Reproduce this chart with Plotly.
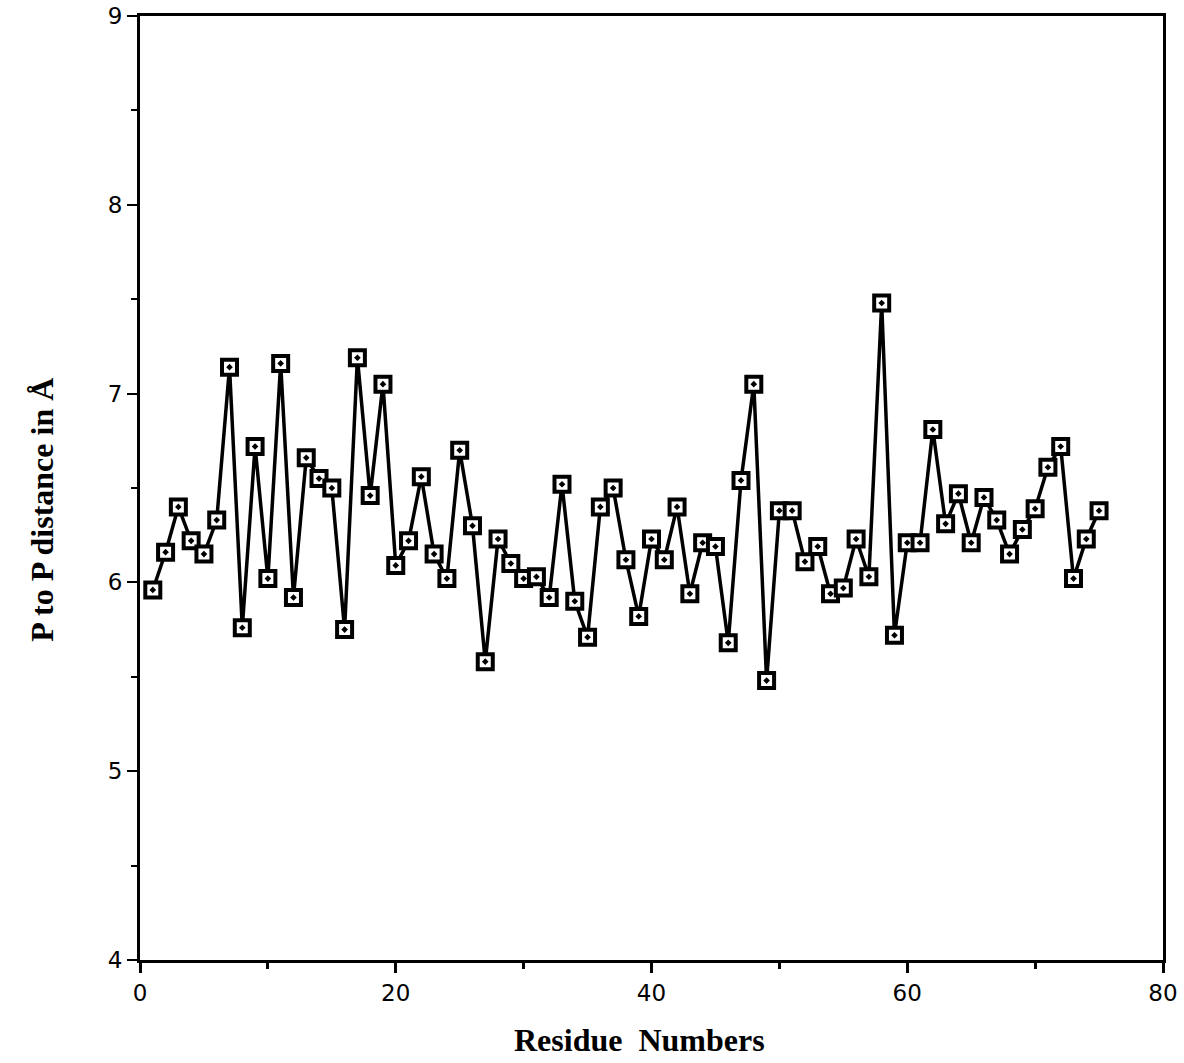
import plotly.graph_objects as go

residues = list(range(1, 76))
distances = [
    5.96, 6.16, 6.40, 6.22, 6.15, 6.33, 7.14, 5.76, 6.72, 6.02,
    7.16, 5.92, 6.66, 6.55, 6.50, 5.75, 7.19, 6.46, 7.05, 6.09,
    6.22, 6.56, 6.15, 6.02, 6.70, 6.30, 5.58, 6.23, 6.10, 6.02,
    6.03, 5.92, 6.52, 5.90, 5.71, 6.40, 6.50, 6.12, 5.82, 6.23,
    6.12, 6.40, 5.94, 6.21, 6.19, 5.68, 6.54, 7.05, 5.48, 6.38,
    6.38, 6.11, 6.19, 5.94, 5.97, 6.23, 6.03, 7.48, 5.72, 6.21,
    6.21, 6.81, 6.31, 6.47, 6.21, 6.45, 6.33, 6.15, 6.28, 6.39,
    6.61, 6.72, 6.02, 6.23, 6.38,
]

x_major = [0, 20, 40, 60, 80]
y_major = [4, 5, 6, 7, 8, 9]
x_title = "Residue  Numbers"
y_title = "P to P distance in Å"

fig = go.Figure()
fig.add_trace(go.Scatter(
    x=residues, y=distances, mode="lines+markers",
    line=dict(color="black", width=3.5),
    marker=dict(symbol="square-dot", size=15, color="white",
                line=dict(color="black", width=4)),
    showlegend=False,
))

tick_font = dict(family="DejaVu Sans, Liberation Sans, Arial", size=23, color="black")
title_font = dict(family="Liberation Serif, Times New Roman", size=32, color="black")

fig.update_layout(
    width=1184, height=1063,
    margin=dict(l=140, r=21, t=16, b=103),
    paper_bgcolor="white", plot_bgcolor="white",
    xaxis=dict(
        range=[0, 80], tickvals=x_major, ticktext=[str(v) for v in x_major],
        showgrid=False, zeroline=False, automargin=False,
        showline=True, linecolor="black", linewidth=3, mirror=True,
        ticks="outside", ticklen=10, tickwidth=3, tickcolor="black",
        minor=dict(dtick=10, tick0=0, ticks="outside", ticklen=6, tickwidth=3, tickcolor="black", showgrid=False),
        tickfont=tick_font,
    ),
    yaxis=dict(
        range=[4, 9], tickvals=y_major, ticktext=[str(v) for v in y_major],
        showgrid=False, zeroline=False, automargin=False,
        showline=True, linecolor="black", linewidth=3, mirror=True,
        ticks="outside", ticklen=10, tickwidth=2, tickcolor="black",
        minor=dict(dtick=0.5, tick0=4, ticks="outside", ticklen=6, tickwidth=2, tickcolor="black", showgrid=False),
        tickfont=tick_font,
    ),
    annotations=[
        dict(text=f"<b>{x_title}</b>", xref="paper", yref="paper", x=0.488, y=0,
             yshift=-80, xanchor="center", yanchor="middle", showarrow=False, font=title_font),
        dict(text=f"<b>{y_title}</b>", xref="paper", yref="paper", x=0, y=0.477,
             xshift=-98, xanchor="center", yanchor="middle", textangle=-90,
             showarrow=False, font=title_font),
    ],
)

fig.write_html("out.html")
